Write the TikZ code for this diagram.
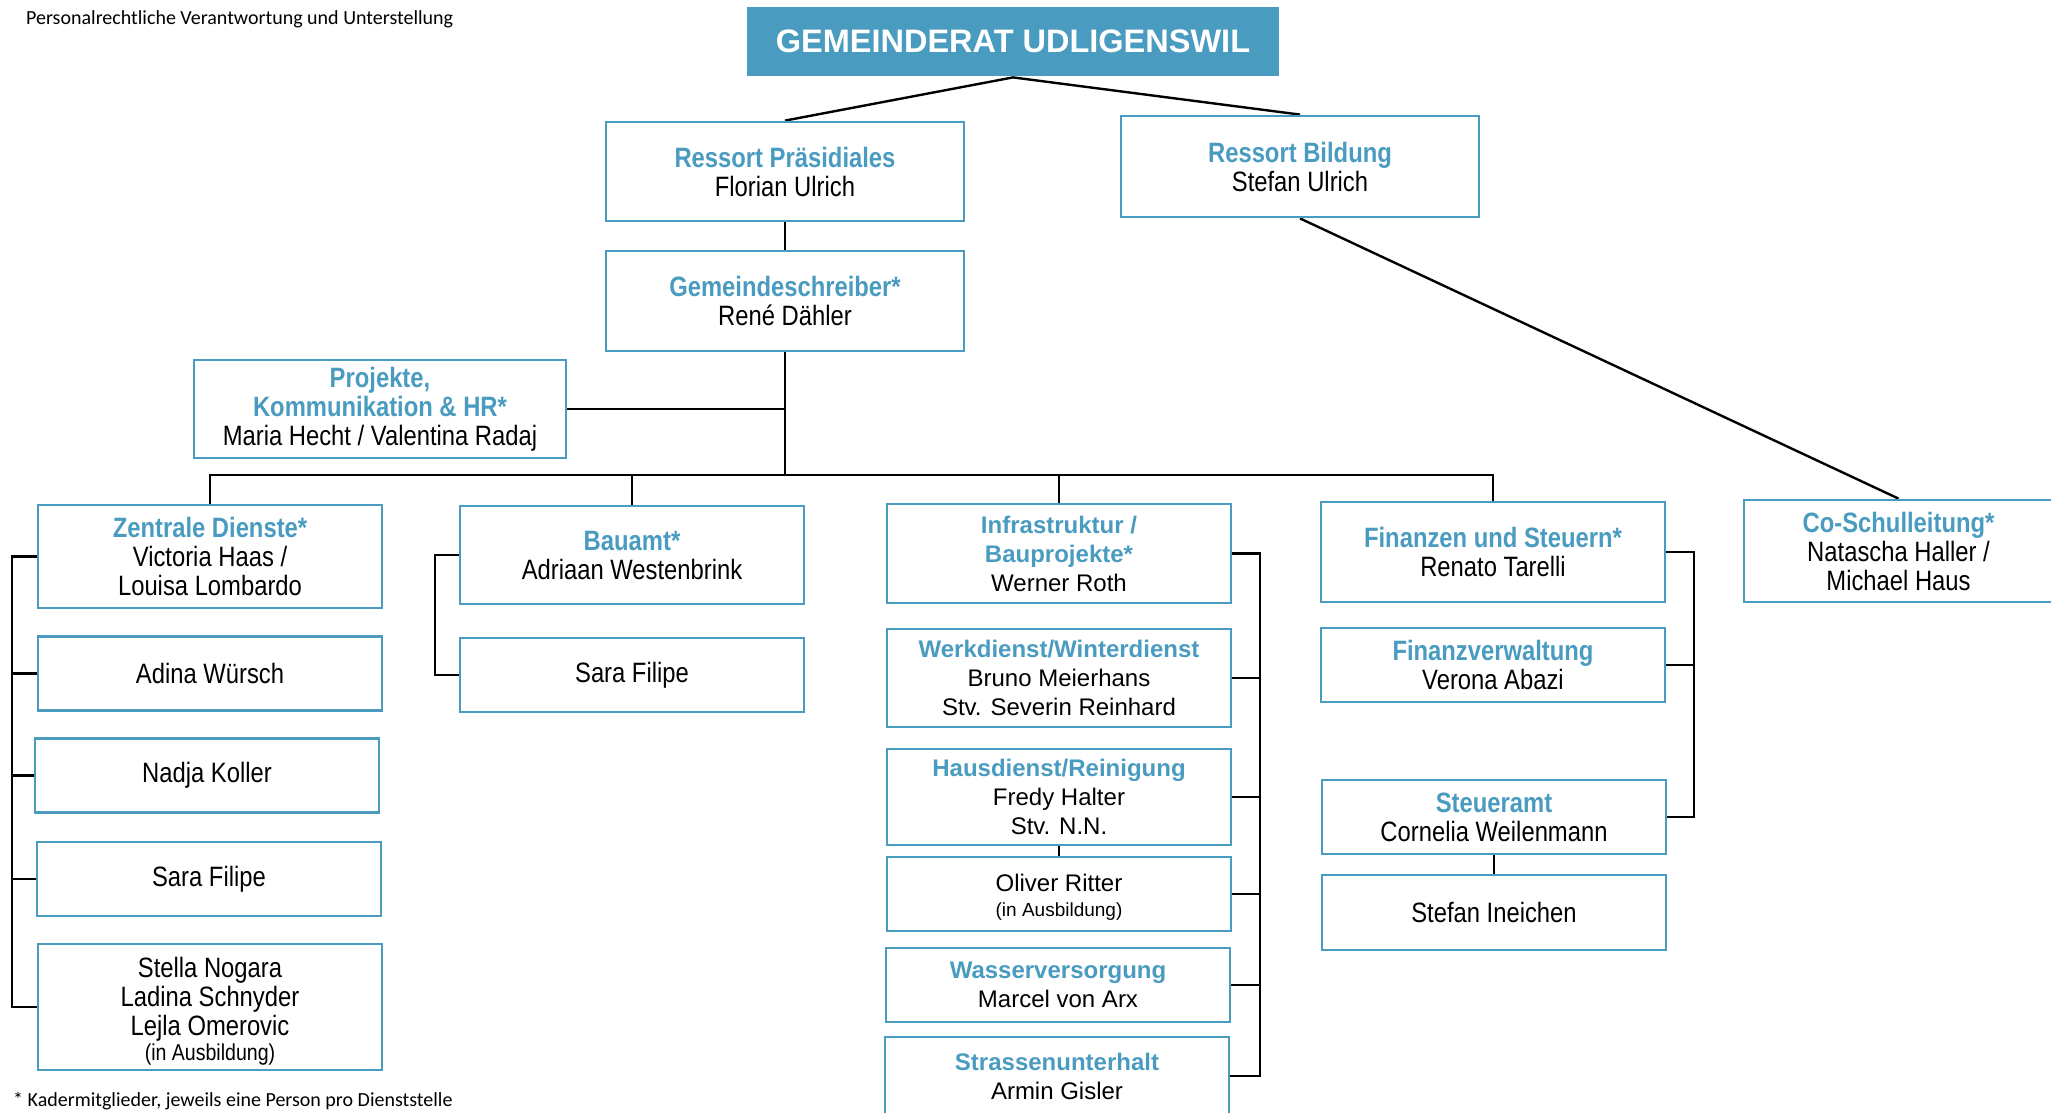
\documentclass[tikz,border=0pt]{standalone}
\usepackage{fontspec}
\setmainfont{Liberation Sans}
\newfontfamily\narrowfont[FakeStretch=0.85]{Liberation Sans}
\newfontfamily\notefont{Carlito}
\usepackage{tikz}
\usetikzlibrary{calc,backgrounds}
\definecolor{udblue}{RGB}{74,155,192}
\newcommand{\boxcolor}{udblue}
\newcommand{\framewidth}{2.8pt}
\newcommand{\linkwidth}{2.4pt}
\newcommand{\boxhead}[1]{\textcolor{\boxcolor}{\bfseries #1}}

\begin{document}
\begin{tikzpicture}[x=1pt, y=-1pt,
  box/.style={draw=\boxcolor, line width=\framewidth, align=center, inner sep=0pt,
    minimum width=344, minimum height=74, font=\narrowfont\fontsize{28}{29}\selectfont},
  widebox/.style={box, font=\fontsize{24}{29}\selectfont},
  note/.style={anchor=west, inner sep=0pt, font=\notefont\fontsize{20}{22}\selectfont},
  link/.style={line width=\linkwidth, black}]
\useasboundingbox (0,0) rectangle (2051,1112);
\node[box, fill=\boxcolor, draw=none, text=white, font=\bfseries\fontsize{32.5}{33}\selectfont] (0) at (1013, 41.5) [minimum width=532, minimum height=69] {GEMEINDERAT UDLIGENSWIL};
\node[box] (1) at (785, 171.5) [minimum width=358, minimum height=99] {\boxhead{Ressort Präsidiales}\\Florian Ulrich};
\node[box] (2) at (1300, 166.5) [minimum width=358, minimum height=101] {\boxhead{Ressort Bildung}\\Stefan Ulrich};
\node[box] (3) at (785, 301) [minimum width=358, minimum height=100] {\boxhead{Gemeindeschreiber*}\\René Dähler};
\node[box] (4) at (380, 409) [minimum width=372, minimum height=98] {\boxhead{Projekte,}\\\boxhead{Kommunikation \& HR*}\\Maria Hecht / Valentina Radaj};
%Zentrale Dienste
\node[box] (5) at (210, 556.5) [minimum height=103] {\boxhead{Zentrale Dienste*}\\Victoria Haas /\\Louisa Lombardo};
\node[box] (6) at (210, 673.5) {Adina Würsch};
\node[box] (7) at (207, 775.5) {Nadja Koller};
\node[box] (8) at (209, 879) {Sara Filipe};
\node[box] (9) at (210, 1007) [minimum height=126, text depth=0pt] {};
\node[font=\narrowfont\fontsize{28}{29}\selectfont, align=center, inner sep=0pt] (9t) at (210, 1011) {Stella Nogara\\Ladina Schnyder\\Lejla Omerovic\\[-4pt]{\fontsize{23}{27}\selectfont (in Ausbildung)}};
%Bauamt
\node[box] (10) at (632, 555) [minimum height=98] {\boxhead{Bauamt*}\\Adriaan Westenbrink};
\node[box] (11) at (632, 675) {Sara Filipe};
%Infrastruktur
\node[widebox] (12) at (1059, 553.5) [minimum height=99] {\boxhead{Infrastruktur /}\\\boxhead{Bauprojekte*}\\Werner Roth};
\node[widebox] (13) at (1059, 678) [minimum height=98] {\boxhead{Werkdienst/Winterdienst}\\Bruno Meierhans\\Stv. Severin Reinhard};
\node[widebox] (14) at (1059, 797) [minimum height=96] {\boxhead{Hausdienst/Reinigung}\\Fredy Halter\\Stv. N.N.};
\node[widebox] (15) at (1059, 894) {};
\node[font=\fontsize{24}{29}\selectfont, align=center, inner sep=0pt] (15t) at (1059, 897) {Oliver Ritter\\[-4pt]{\fontsize{19}{26}\selectfont (in Ausbildung)}};
\node[widebox] (16) at (1058, 985) {\boxhead{Wasserversorgung}\\Marcel von Arx};
\node[widebox] (17) at (1057, 1076) [minimum height=78] {\boxhead{Strassenunterhalt}\\Armin Gisler};
%Finanzen
\node[box] (18) at (1493, 552) [minimum height=100] {\boxhead{Finanzen und Steuern*}\\Renato Tarelli};
\node[box] (19) at (1493, 665) {\boxhead{Finanzverwaltung}\\Verona Abazi};
\node[box] (20) at (1494, 817) {\boxhead{Steueramt}\\Cornelia Weilenmann};
\node[box] (21) at (1494, 912.5) [minimum height=75] {Stefan Ineichen};
%Schule
\node[box] (22) at (1898.5, 551) [minimum width=309, minimum height=102] {\boxhead{Co-Schulleitung*}\\Natascha Haller /\\Michael Haus};
\node[note] (23) at (26, 19) {Personalrechtliche Verantwortung und Unterstellung};
\node[note] (24) at (13, 1101) {* Kadermitglieder, jeweils eine Person pro Dienststelle};
\coordinate (bus) at (785, 475);
\coordinate (zl) at (12, 556.5);
\coordinate (bl) at (435, 555);
\coordinate (ir) at (1260, 553.5);
\coordinate (fr) at (1694, 552);
\begin{scope}[on background layer]
\draw[link] (1.north) -- (0.south) -- (2.north);
\draw[link] (1) -- (3);
\draw[link] (2.south) -- (22.north);
\draw[link] (3.south) -- (bus);
\draw[link] (4.east) -- (4.east -| bus);
\draw[link] (5.north) |- (bus) -| (18.north);
\draw[link] (10.north) -- (10.north |- bus);
\draw[link] (12.north) -- (12.north |- bus);
\draw[link] (5.west) -- (zl) |- (9.west);
\draw[link] (6.west) -- (6.west -| zl);
\draw[link] (7.west) -- (7.west -| zl);
\draw[link] (8.west) -- (8.west -| zl);
\draw[link] (10.west) -- (bl) |- (11.west);
\draw[link] (12.east) -- (ir) |- (17.east);
\draw[link] (13.east) -- (13.east -| ir);
\draw[link] (14.east) -- (14.east -| ir);
\draw[link] (15.east) -- (15.east -| ir);
\draw[link] (16.east) -- (16.east -| ir);
\draw[link] (14) -- (15);
\draw[link] (18.east) -- (fr) |- (20.east);
\draw[link] (19.east) -- (19.east -| fr);
\draw[link] (20) -- (21);
\end{scope}
\end{tikzpicture}
\end{document}
